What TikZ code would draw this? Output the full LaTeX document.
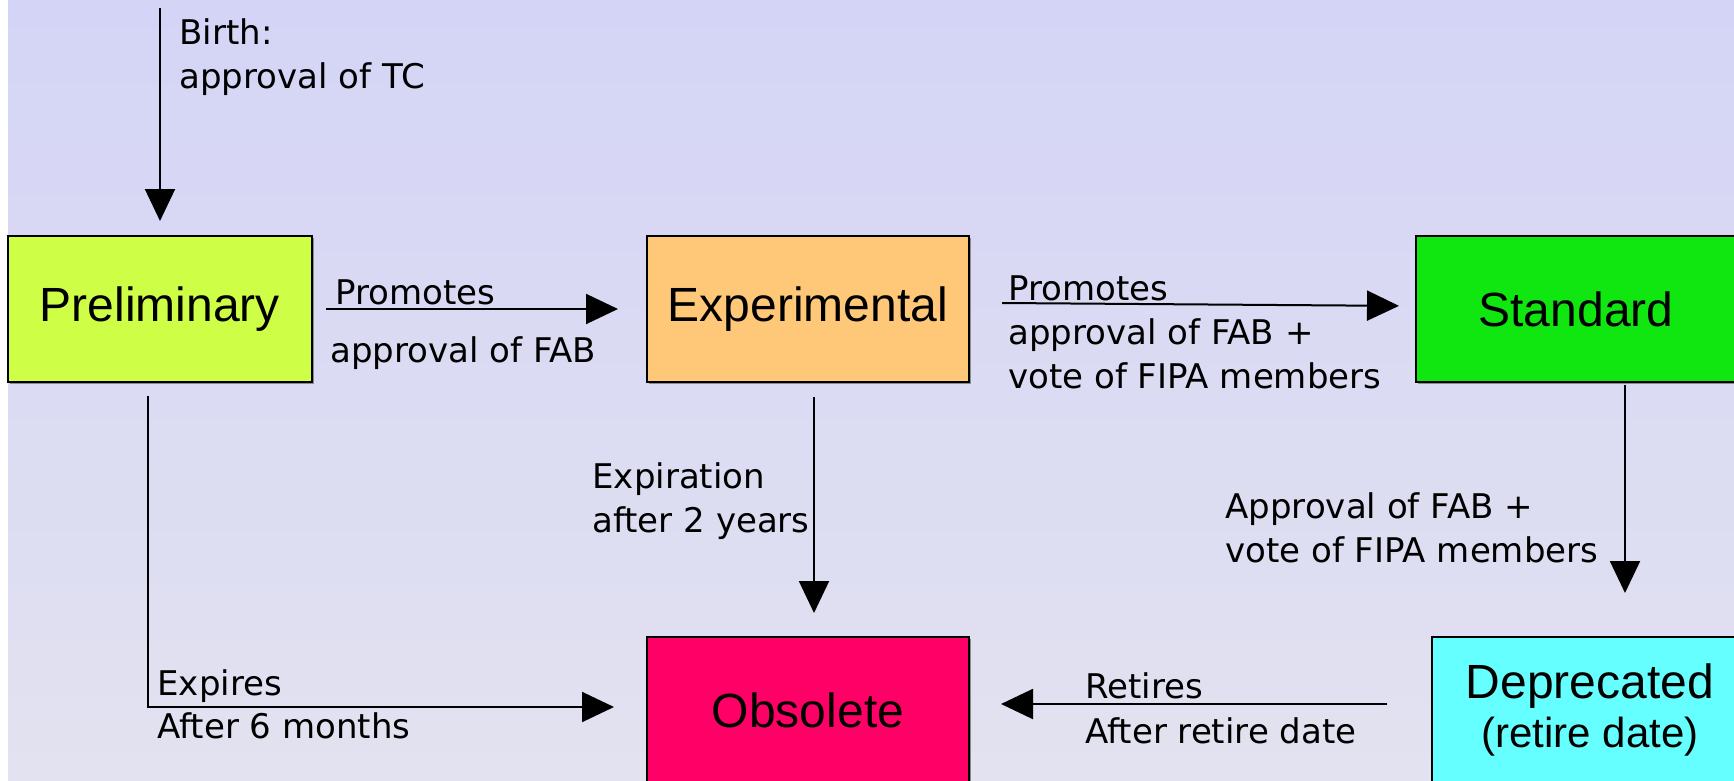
\documentclass[tikz,border=0pt]{standalone}
\usepackage{fontspec}
\setmainfont{DejaVu Sans}
\newfontfamily\boxfont{Liberation Sans}
\usepackage{xcolor}
\usetikzlibrary{arrows.meta,shadows}

\definecolor{bgtop}{RGB}{212,212,246}
\definecolor{bgbot}{RGB}{226,226,240}
\definecolor{prelimcol}{RGB}{206,255,70}
\definecolor{expercol}{RGB}{255,200,120}
\definecolor{stdcol}{RGB}{16,230,16}
\definecolor{obscol}{RGB}{255,0,102}
\definecolor{depcol}{RGB}{102,255,255}

\tikzset{
    state/.style={draw=black, line width=1pt, minimum height=73pt, inner sep=0pt,
        align=center, font=\boxfont\fontsize{24}{24.5}\selectfont,
        drop shadow={shadow xshift=1.2pt, shadow yshift=-1.2pt, fill=black!45, opacity=1}},
    lbl/.style={inner sep=0pt, align=left, font=\fontsize{17}{22}\selectfont},
    flow/.style={-{Triangle[length=16pt, width=15pt]}, line width=1pt}
}

\begin{document}
\begin{tikzpicture}[x=0.5pt, y=-0.5pt]
        \useasboundingbox (0, 0) rectangle (1734, 781);
        \fill[white] (0, 0) rectangle (8, 781);
        \shade[top color=bgtop, bottom color=bgbot] (8, 0) rectangle (1734, 781); % background

        \node[state, fill=prelimcol, minimum width=152pt] (prelim) at (160, 309) {Preliminary};
        \node[state, fill=expercol, minimum width=161pt] (exper) at (808, 309) {Experimental};
        \node[state, fill=stdcol, minimum width=160pt] (std) at (1576, 309) {Standard};
        \node[state, fill=obscol, minimum width=161pt] (obs) at (808, 710) {Obsolete};
        \node[state, fill=depcol, minimum width=158pt] (dep) at (1590, 710)
            {Deprecated\\{\fontsize{21}{24.5}\selectfont (retire date)}};

        % birth
        \coordinate (birth) at (160, 8);
        \draw[flow, shorten >=7pt] (birth) -- (prelim.north);
        \node[lbl, anchor=north west] (birth-l) at (179, 18) {Birth:\\approval of TC};

        % promotions
        \draw[flow, shorten <=6.5pt, shorten >=14pt] (prelim.east) -- (exper.west);
        \node[lbl, anchor=base west] (prom1-l) at (335, 304) {Promotes};
        \node[lbl, anchor=base west] (prom1-b) at (330, 362) {approval of FAB};

        \draw[flow, shorten >=8pt] ([xshift=16pt, yshift=3pt]exper.east) -- ([yshift=1.5pt]std.west);
        \node[lbl, anchor=base west] (prom2-l) at (1008, 300) {Promotes};
        \node[lbl, anchor=north west] (prom2-b) at (1008, 318) {approval of FAB +\\vote of FIPA members};

        % deprecation
        \coordinate (dep-a) at (1625, 385);
        \draw[flow, shorten >=21.5pt] (dep-a) -- (dep-a |- dep.north);
        \node[lbl, anchor=north west] (dep-l) at (1225, 492) {Approval of FAB +\\vote of FIPA members};

        % expiration
        \draw[flow, shorten >=11.5pt] ([xshift=3pt, yshift=-7pt]exper.south) -- ([xshift=3pt]obs.north);
        \node[lbl, anchor=north west] (exp-l) at (592, 462) {Expiration\\after 2 years};

        \draw[flow, shorten >=16pt] ([xshift=-6pt, yshift=-6.5pt]prelim.south) |- ([yshift=1.5pt]obs.west);
        \node[lbl, anchor=base west] (expires-l) at (157, 695) {Expires};
        \node[lbl, anchor=base west] (expires-b) at (157, 738) {After 6 months};

        % retirement
        \draw[flow, shorten <=22pt, shorten >=15.5pt] ([yshift=3pt]dep.west) -- ([yshift=3pt]obs.east);
        \node[lbl, anchor=base west] (ret-l) at (1085, 698) {Retires};
        \node[lbl, anchor=base west] (ret-b) at (1085, 743) {After retire date};

\end{tikzpicture}
\end{document}
